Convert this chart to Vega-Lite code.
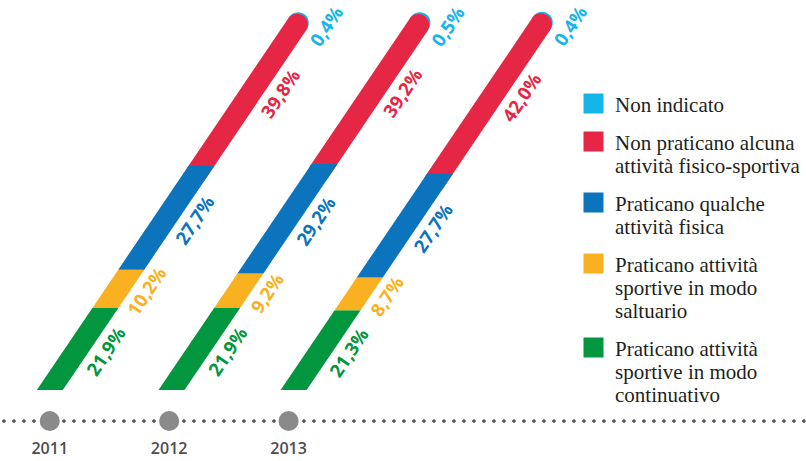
{
  "$schema": "https://vega.github.io/schema/vega-lite/v6.json",
  "autosize": {"type": "fit", "contains": "padding"},
  "width": 806,
  "height": 461,
  "padding": 0,
  "background": "white",
  "config": {
    "view": {"stroke": null},
    "locale": {"number": {"decimal": ",", "thousands": ".", "grouping": [3], "currency": ["€", ""]}},
    "legend": {
      "orient": "none",
      "legendX": 581,
      "legendY": 101,
      "title": null,
      "symbolType": "M-1,-1.8H1V0.2H-1Z",
      "symbolSize": 400,
      "symbolStrokeWidth": 0,
      "symbolOpacity": 1,
      "labelFont": "Liberation Serif",
      "labelFontSize": 21,
      "labelColor": "#231f20",
      "labelOffset": 11,
      "labelLimit": 400,
      "labelBaseline": "alphabetic",
      "rowPadding": 15
    }
  },
  "datasets": {
    "pct": [
      {"year": 2011, "ord": 1, "category": "Praticano attività sportive in modo continuativo", "value": 0.219},
      {"year": 2011, "ord": 2, "category": "Praticano attività sportive in modo saltuario", "value": 0.102},
      {"year": 2011, "ord": 3, "category": "Praticano qualche attività fisica", "value": 0.277},
      {"year": 2011, "ord": 4, "category": "Non praticano alcuna attività fisico-sportiva", "value": 0.398},
      {"year": 2011, "ord": 5, "category": "Non indicato", "value": 0.004},
      {"year": 2012, "ord": 1, "category": "Praticano attività sportive in modo continuativo", "value": 0.219},
      {"year": 2012, "ord": 2, "category": "Praticano attività sportive in modo saltuario", "value": 0.092},
      {"year": 2012, "ord": 3, "category": "Praticano qualche attività fisica", "value": 0.292},
      {"year": 2012, "ord": 4, "category": "Non praticano alcuna attività fisico-sportiva", "value": 0.392},
      {"year": 2012, "ord": 5, "category": "Non indicato", "value": 0.005},
      {"year": 2013, "ord": 1, "category": "Praticano attività sportive in modo continuativo", "value": 0.213},
      {"year": 2013, "ord": 2, "category": "Praticano attività sportive in modo saltuario", "value": 0.087},
      {"year": 2013, "ord": 3, "category": "Praticano qualche attività fisica", "value": 0.277},
      {"year": 2013, "ord": 4, "category": "Non praticano alcuna attività fisico-sportiva", "value": 0.420},
      {"year": 2013, "ord": 5, "category": "Non indicato", "value": 0.004}
    ],
    "years": [
      {"year": 2011, "label": "2011"},
      {"year": 2012, "label": "2012"},
      {"year": 2013, "label": "2013"}
    ]
  },
  "resolve": {"scale": {"x": "independent"}},
  "layer": [
    {
      "data": {"name": "years"},
      "mark": {"type": "rule", "color": "#58595b", "strokeWidth": 3, "strokeCap": "round", "strokeDash": [0.1, 9.9]},
      "encoding": {
        "y": {"datum": -0.082667, "type": "quantitative", "scale": {"domain": [-0.189333, 1.04], "nice": false, "zero": false}, "axis": null}
      }
    },
    {
      "data": {"name": "years"},
      "layer": [
        {
          "mark": {"type": "circle", "size": 405, "color": "#8a8a8a", "opacity": 1},
          "encoding": {
            "x": {"field": "year", "type": "quantitative", "scale": {"domain": [2010.6, 2017.316667], "nice": false, "zero": false}, "axis": null},
            "y": {"datum": -0.082667, "type": "quantitative", "scale": {"domain": [-0.189333, 1.04], "nice": false, "zero": false}, "axis": null}
          }
        },
        {
          "mark": {"type": "text", "font": "Open Sans", "fontSize": 16, "fontWeight": 600, "color": "#4d4d4f", "baseline": "middle", "dy": 28},
          "encoding": {
            "x": {"field": "year", "type": "quantitative", "scale": {"domain": [2010.6, 2017.316667], "nice": false, "zero": false}, "axis": null},
            "y": {"datum": -0.082667, "type": "quantitative", "scale": {"domain": [-0.189333, 1.04], "nice": false, "zero": false}, "axis": null},
            "text": {"field": "label"}
          }
        }
      ]
    },
    {
      "data": {"name": "pct"},
      "transform": [
        {"filter": "datum.year == 2011"},
        {"stack": "value", "groupby": ["year"], "sort": [{"field": "ord", "order": "ascending"}], "as": ["v0", "v1"]}
      ],
      "encoding": {
        "color": {"field": "category", "type": "nominal",
          "scale": {"domain": ["Non indicato", "Non praticano alcuna attività fisico-sportiva", "Praticano qualche attività fisica", "Praticano attività sportive in modo saltuario", "Praticano attività sportive in modo continuativo"],
                    "range": ["#15b5ea", "#e62645", "#0b74bd", "#f9b122", "#02963f"]},
          "legend": {"labelExpr": "datum.label == 'Non praticano alcuna attività fisico-sportiva' ? ['Non praticano alcuna', 'attività fisico-sportiva'] : datum.label == 'Praticano qualche attività fisica' ? ['Praticano qualche', 'attività fisica'] : datum.label == 'Praticano attività sportive in modo saltuario' ? ['Praticano attività', 'sportive in modo', 'saltuario'] : datum.label == 'Praticano attività sportive in modo continuativo' ? ['Praticano attività', 'sportive in modo', 'continuativo'] : datum.label"}}
      },
      "layer": [
        {
          "transform": [{"filter": "datum.ord == 5"}],
          "mark": {"type": "rule", "strokeWidth": 21.5, "strokeCap": "round", "xOffset": 7.55, "x2Offset": 7.55, "yOffset": 8, "y2Offset": 8},
          "encoding": {
            "y": {"field": "v0", "type": "quantitative", "scale": {"domain": [-0.189333, 1.04], "nice": false, "zero": false}, "axis": null},
            "y2": {"field": "v1"},
            "x": {"field": "v0", "type": "quantitative", "scale": {"domain": [-0.13725, 3.02353], "nice": false, "zero": false}, "axis": null},
            "x2": {"field": "v1"}
          }
        },
        {
          "transform": [{"filter": "datum.ord == 4"}],
          "mark": {"type": "rule", "strokeWidth": 21.5, "strokeCap": "round", "xOffset": 7.55, "x2Offset": 7.55, "yOffset": 8, "y2Offset": 8},
          "encoding": {
            "y": {"field": "v0", "type": "quantitative", "scale": {"domain": [-0.189333, 1.04], "nice": false, "zero": false}, "axis": null},
            "y2": {"field": "v1"},
            "x": {"field": "v0", "type": "quantitative", "scale": {"domain": [-0.13725, 3.02353], "nice": false, "zero": false}, "axis": null},
            "x2": {"field": "v1"}
          }
        },
        {
          "transform": [{"filter": "datum.ord <= 3"}, {"fold": ["v0", "v1"], "as": ["end", "v"]}],
          "mark": {"type": "area", "orient": "horizontal", "x2Offset": 26, "opacity": 1},
          "encoding": {
            "y": {"field": "v", "type": "quantitative", "scale": {"domain": [-0.189333, 1.04], "nice": false, "zero": false}, "axis": null},
            "x": {"field": "v", "type": "quantitative", "stack": null, "scale": {"domain": [-0.13725, 3.02353], "nice": false, "zero": false}, "axis": null},
            "x2": {"field": "v"}
          }
        },
        {
          "transform": [{"filter": "datum.ord <= 4"}, {"fold": ["v0", "v1"], "as": ["end", "v"]}],
          "mark": {"type": "text", "font": "Open Sans", "fontSize": 18.5, "fontWeight": "bold", "angle": -56, "align": "center", "baseline": "middle", "dx": 21, "dy": 36.5},
          "encoding": {
            "y": {"aggregate": "mean", "field": "v", "type": "quantitative", "scale": {"domain": [-0.189333, 1.04], "nice": false, "zero": false}, "axis": null},
            "x": {"aggregate": "mean", "field": "v", "type": "quantitative", "scale": {"domain": [-0.13725, 3.02353], "nice": false, "zero": false}, "axis": null},
            "text": {"field": "value", "type": "quantitative", "format": ".1%"}
          }
        },
        {
          "transform": [{"filter": "datum.ord == 5"}, {"fold": ["v0", "v1"], "as": ["end", "v"]}],
          "mark": {"type": "text", "font": "Open Sans", "fontSize": 18.5, "fontWeight": "bold", "angle": -56, "align": "center", "baseline": "middle", "dx": 11.6, "dy": 36.8},
          "encoding": {
            "y": {"aggregate": "mean", "field": "v", "type": "quantitative", "scale": {"domain": [-0.189333, 1.04], "nice": false, "zero": false}, "axis": null},
            "x": {"aggregate": "mean", "field": "v", "type": "quantitative", "scale": {"domain": [-0.13725, 3.02353], "nice": false, "zero": false}, "axis": null},
            "text": {"field": "value", "type": "quantitative", "format": ".1%"}
          }
        }
      ]
    },
    {
      "data": {"name": "pct"},
      "transform": [
        {"filter": "datum.year == 2012"},
        {"stack": "value", "groupby": ["year"], "sort": [{"field": "ord", "order": "ascending"}], "as": ["v0", "v1"]}
      ],
      "encoding": {
        "color": {"field": "category", "type": "nominal"}
      },
      "layer": [
        {
          "transform": [{"filter": "datum.ord == 5"}],
          "mark": {"type": "rule", "strokeWidth": 21.5, "strokeCap": "round", "xOffset": 7.55, "x2Offset": 7.55, "yOffset": 8, "y2Offset": 8},
          "encoding": {
            "y": {"field": "v0", "type": "quantitative", "scale": {"domain": [-0.189333, 1.04], "nice": false, "zero": false}, "axis": null},
            "y2": {"field": "v1"},
            "x": {"field": "v0", "type": "quantitative", "scale": {"domain": [-0.61686, 2.54392], "nice": false, "zero": false}, "axis": null},
            "x2": {"field": "v1"}
          }
        },
        {
          "transform": [{"filter": "datum.ord == 4"}],
          "mark": {"type": "rule", "strokeWidth": 21.5, "strokeCap": "round", "xOffset": 7.55, "x2Offset": 7.55, "yOffset": 8, "y2Offset": 8},
          "encoding": {
            "y": {"field": "v0", "type": "quantitative", "scale": {"domain": [-0.189333, 1.04], "nice": false, "zero": false}, "axis": null},
            "y2": {"field": "v1"},
            "x": {"field": "v0", "type": "quantitative", "scale": {"domain": [-0.61686, 2.54392], "nice": false, "zero": false}, "axis": null},
            "x2": {"field": "v1"}
          }
        },
        {
          "transform": [{"filter": "datum.ord <= 3"}, {"fold": ["v0", "v1"], "as": ["end", "v"]}],
          "mark": {"type": "area", "orient": "horizontal", "x2Offset": 26, "opacity": 1},
          "encoding": {
            "y": {"field": "v", "type": "quantitative", "scale": {"domain": [-0.189333, 1.04], "nice": false, "zero": false}, "axis": null},
            "x": {"field": "v", "type": "quantitative", "stack": null, "scale": {"domain": [-0.61686, 2.54392], "nice": false, "zero": false}, "axis": null},
            "x2": {"field": "v"}
          }
        },
        {
          "transform": [{"filter": "datum.ord <= 4"}, {"fold": ["v0", "v1"], "as": ["end", "v"]}],
          "mark": {"type": "text", "font": "Open Sans", "fontSize": 18.5, "fontWeight": "bold", "angle": -56, "align": "center", "baseline": "middle", "dx": 21, "dy": 36.5},
          "encoding": {
            "y": {"aggregate": "mean", "field": "v", "type": "quantitative", "scale": {"domain": [-0.189333, 1.04], "nice": false, "zero": false}, "axis": null},
            "x": {"aggregate": "mean", "field": "v", "type": "quantitative", "scale": {"domain": [-0.61686, 2.54392], "nice": false, "zero": false}, "axis": null},
            "text": {"field": "value", "type": "quantitative", "format": ".1%"}
          }
        },
        {
          "transform": [{"filter": "datum.ord == 5"}, {"fold": ["v0", "v1"], "as": ["end", "v"]}],
          "mark": {"type": "text", "font": "Open Sans", "fontSize": 18.5, "fontWeight": "bold", "angle": -56, "align": "center", "baseline": "middle", "dx": 11.6, "dy": 36.8},
          "encoding": {
            "y": {"aggregate": "mean", "field": "v", "type": "quantitative", "scale": {"domain": [-0.189333, 1.04], "nice": false, "zero": false}, "axis": null},
            "x": {"aggregate": "mean", "field": "v", "type": "quantitative", "scale": {"domain": [-0.61686, 2.54392], "nice": false, "zero": false}, "axis": null},
            "text": {"field": "value", "type": "quantitative", "format": ".1%"}
          }
        }
      ]
    },
    {
      "data": {"name": "pct"},
      "transform": [
        {"filter": "datum.year == 2013"},
        {"stack": "value", "groupby": ["year"], "sort": [{"field": "ord", "order": "ascending"}], "as": ["v0", "v1"]}
      ],
      "encoding": {
        "color": {"field": "category", "type": "nominal"}
      },
      "layer": [
        {
          "transform": [{"filter": "datum.ord == 5"}],
          "mark": {"type": "rule", "strokeWidth": 21.5, "strokeCap": "round", "xOffset": 7.55, "x2Offset": 7.55, "yOffset": 8, "y2Offset": 8},
          "encoding": {
            "y": {"field": "v0", "type": "quantitative", "scale": {"domain": [-0.189333, 1.04], "nice": false, "zero": false}, "axis": null},
            "y2": {"field": "v1"},
            "x": {"field": "v0", "type": "quantitative", "scale": {"domain": [-1.09804, 2.06275], "nice": false, "zero": false}, "axis": null},
            "x2": {"field": "v1"}
          }
        },
        {
          "transform": [{"filter": "datum.ord == 4"}],
          "mark": {"type": "rule", "strokeWidth": 21.5, "strokeCap": "round", "xOffset": 7.55, "x2Offset": 7.55, "yOffset": 8, "y2Offset": 8},
          "encoding": {
            "y": {"field": "v0", "type": "quantitative", "scale": {"domain": [-0.189333, 1.04], "nice": false, "zero": false}, "axis": null},
            "y2": {"field": "v1"},
            "x": {"field": "v0", "type": "quantitative", "scale": {"domain": [-1.09804, 2.06275], "nice": false, "zero": false}, "axis": null},
            "x2": {"field": "v1"}
          }
        },
        {
          "transform": [{"filter": "datum.ord <= 3"}, {"fold": ["v0", "v1"], "as": ["end", "v"]}],
          "mark": {"type": "area", "orient": "horizontal", "x2Offset": 26, "opacity": 1},
          "encoding": {
            "y": {"field": "v", "type": "quantitative", "scale": {"domain": [-0.189333, 1.04], "nice": false, "zero": false}, "axis": null},
            "x": {"field": "v", "type": "quantitative", "stack": null, "scale": {"domain": [-1.09804, 2.06275], "nice": false, "zero": false}, "axis": null},
            "x2": {"field": "v"}
          }
        },
        {
          "transform": [{"filter": "datum.ord <= 4"}, {"fold": ["v0", "v1"], "as": ["end", "v"]}],
          "mark": {"type": "text", "font": "Open Sans", "fontSize": 18.5, "fontWeight": "bold", "angle": -56, "align": "center", "baseline": "middle", "dx": 21, "dy": 36.5},
          "encoding": {
            "y": {"aggregate": "mean", "field": "v", "type": "quantitative", "scale": {"domain": [-0.189333, 1.04], "nice": false, "zero": false}, "axis": null},
            "x": {"aggregate": "mean", "field": "v", "type": "quantitative", "scale": {"domain": [-1.09804, 2.06275], "nice": false, "zero": false}, "axis": null},
            "text": {"field": "value", "type": "quantitative", "format": ".1%"}
          }
        },
        {
          "transform": [{"filter": "datum.ord == 5"}, {"fold": ["v0", "v1"], "as": ["end", "v"]}],
          "mark": {"type": "text", "font": "Open Sans", "fontSize": 18.5, "fontWeight": "bold", "angle": -56, "align": "center", "baseline": "middle", "dx": 11.6, "dy": 36.8},
          "encoding": {
            "y": {"aggregate": "mean", "field": "v", "type": "quantitative", "scale": {"domain": [-0.189333, 1.04], "nice": false, "zero": false}, "axis": null},
            "x": {"aggregate": "mean", "field": "v", "type": "quantitative", "scale": {"domain": [-1.09804, 2.06275], "nice": false, "zero": false}, "axis": null},
            "text": {"field": "value", "type": "quantitative", "format": ".1%"}
          }
        }
      ]
    }
  ]
}
